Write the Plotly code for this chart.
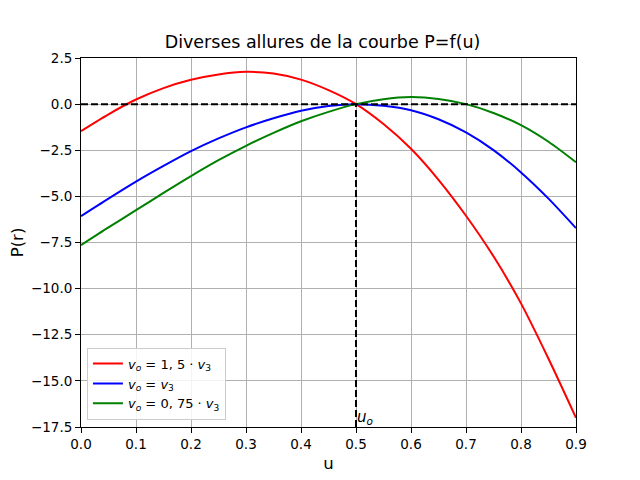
import plotly.graph_objects as go

# ---- data ----
u = [0.0, 0.05, 0.10, 0.15, 0.20, 0.25, 0.30, 0.35, 0.40, 0.45,
     0.50, 0.55, 0.60, 0.65, 0.70, 0.75, 0.80, 0.85, 0.90]
p_red = [-1.46, -0.55, 0.25, 0.87, 1.32, 1.61, 1.75, 1.66, 1.33, 0.76,
         0.0, -1.08, -2.42, -4.10, -6.05, -8.25, -10.8, -13.8, -17.0]
p_blue = [-6.07, -5.12, -4.20, -3.35, -2.55, -1.86, -1.26, -0.77, -0.36, -0.10,
          0.0, -0.09, -0.33, -0.82, -1.53, -2.49, -3.70, -5.12, -6.72]
p_green = [-7.64, -6.68, -5.75, -4.81, -3.90, -3.04, -2.26, -1.56, -0.93, -0.42,
           0.0, 0.27, 0.38, 0.28, 0.0, -0.48, -1.14, -2.04, -3.15]

names = ["<i>v</i><sub><i>o</i></sub> = 1, 5 · <i>v</i><sub>3</sub>",
         "<i>v</i><sub><i>o</i></sub> = <i>v</i><sub>3</sub>",
         "<i>v</i><sub><i>o</i></sub> = 0, 75 · <i>v</i><sub>3</sub>"]
colors = ["red", "blue", "green"]

u0 = 0.5
u_min, u_max = 0.0, 0.9
p_min, p_max = -17.5, 2.5

x_ticks = [0.0, 0.1, 0.2, 0.3, 0.4, 0.5, 0.6, 0.7, 0.8, 0.9]
x_ticktext = ["0.0", "0.1", "0.2", "0.3", "0.4", "0.5", "0.6", "0.7", "0.8", "0.9"]
y_ticks = [2.5, 0.0, -2.5, -5.0, -7.5, -10.0, -12.5, -15.0, -17.5]
y_ticktext = ["2.5", "0.0", "−2.5", "−5.0", "−7.5", "−10.0", "−12.5", "−15.0", "−17.5"]

FONT = "DejaVu Sans"

fig = go.Figure()
for ys, nm, c in zip([p_red, p_blue, p_green], names, colors):
    fig.add_trace(go.Scatter(x=u, y=ys, mode="lines", name=nm,
                             line=dict(color=c, width=2, shape="spline", smoothing=0.8)))

# dashed reference lines
fig.add_trace(go.Scatter(x=[u_min, u_max], y=[0, 0], mode="lines", showlegend=False,
                         line=dict(color="black", width=2, dash="7px,3px")))
fig.add_trace(go.Scatter(x=[u0, u0], y=[p_min, 0], mode="lines", showlegend=False,
                         line=dict(color="black", width=2, dash="7px,3px")))

fig.add_annotation(x=u0, y=p_min, xref="x", yref="y", text="<i>u</i><sub><i>o</i></sub>",
                   showarrow=False, xanchor="left", yanchor="bottom", xshift=-1, yshift=-2,
                   font=dict(family=FONT, size=15, color="black"))

axis_common = dict(showline=True, linecolor="black", linewidth=1, mirror=True,
                   ticks="outside", ticklen=5, tickcolor="black", tickwidth=1,
                   showgrid=True, gridcolor="#b0b0b0", gridwidth=1, zeroline=False,
                   automargin=False,
                   tickfont=dict(family=FONT, size=13.5, color="black"))

fig.update_xaxes(range=[u_min, u_max], tickvals=x_ticks, ticktext=x_ticktext,
                 title=dict(text="u", font=dict(family=FONT, size=16.5, color="black"), standoff=6),
                 **axis_common)
fig.update_yaxes(range=[p_min, p_max], tickvals=y_ticks, ticktext=y_ticktext,
                 title=dict(text="P(r)", font=dict(family=FONT, size=16.5, color="black"), standoff=16),
                 **axis_common)

fig.update_layout(
    width=640, height=480,
    margin=dict(l=73, r=72, t=50, b=61),
    paper_bgcolor="white", plot_bgcolor="white",
    font=dict(family=FONT, color="black"),
    title=dict(text="Diverses allures de la courbe P=f(u)", x=0.488, xref="paper",
               y=1 - 34 / 480, yref="container", yanchor="middle",
               font=dict(family=FONT, size=17.5, color="black")),
    legend=dict(x=0.012, y=0.02, xanchor="left", yanchor="bottom",
                bgcolor="rgba(255,255,255,0.85)", bordercolor="#cccccc", borderwidth=1,
                font=dict(family=FONT, size=13, color="black"),
                itemwidth=30, tracegroupgap=0),
    showlegend=True,
)

fig.write_html("out.html")
